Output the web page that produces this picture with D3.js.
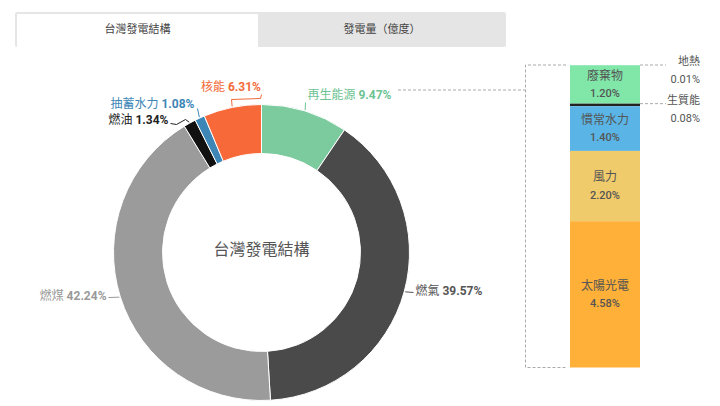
<!DOCTYPE html>
<html lang="zh-Hant">
<head>
<meta charset="utf-8">
<title>台灣發電結構</title>
<script src="https://d3js.org/d3.v7.min.js"></script>
<style>
  body { margin: 0; background: #fff; }
  text { font-family: Roboto, "Noto Sans CJK TC", sans-serif; }
</style>
</head>
<body>
<div id="chart"></div>
<script>
// donut data
var sources = ["再生能源", "燃氣", "燃煤", "燃油", "抽蓄水力", "核能"];
var shares = [9.47, 39.57, 42.24, 1.34, 1.08, 6.31];
var sliceColors = ["#7bcb9f", "#4a4a4a", "#9b9b9b", "#111111", "#3d86b6", "#f8693a"];
var labelColors = ["#6cc393", "#555555", "#999999", "#222222", "#3d86b6", "#f26a3a"];

// renewables breakdown (top to bottom)
var renewables = ["地熱", "廢棄物", "生質能", "慣常水力", "風力", "太陽光電"];
var renewShares = [0.01, 1.20, 0.08, 1.40, 2.20, 4.58];
var renewColors = ["#7fd9a5", "#80e7a9", "#222222", "#5ab5e6", "#f0cb6b", "#ffb038"];

var tabs = ["台灣發電結構", "發電量（億度）"];

var w = 720, h = 406;
var cx = 261.5, cy = 252.5, rOut = 148, rIn = 99;

var svg = d3.select("#chart").append("svg")
  .attr("width", w)
  .attr("height", h);

// tabs
svg.append("rect").attr("x", 15).attr("y", 12).attr("width", 491).attr("height", 35)
  .attr("rx", 2).attr("fill", "#e5e5e5");
svg.append("rect").attr("x", 17).attr("y", 14).attr("width", 241).attr("height", 33)
  .attr("fill", "#fff");
svg.selectAll("text.tab")
  .data(tabs)
  .enter()
  .append("text")
  .attr("class", "tab")
  .attr("x", function(d, i) { return i == 0 ? 137.5 : 382; })
  .attr("y", 30)
  .attr("text-anchor", "middle")
  .attr("dominant-baseline", "middle")
  .attr("font-size", "11px")
  .attr("fill", "#444")
  .text(function(d) { return d; });

// donut
var pie = d3.pie().sort(null).value(function(d) { return d; });
var arcs = pie(shares);
var arc = d3.arc().innerRadius(rIn).outerRadius(rOut);

var g = svg.append("g").attr("transform", "translate(" + cx + "," + cy + ")");

g.selectAll("path")
  .data(arcs)
  .enter()
  .append("path")
  .attr("d", arc)
  .attr("fill", function(d, i) { return sliceColors[i]; })
  .attr("stroke", "#fff")
  .attr("stroke-width", 1);

g.append("text")
  .attr("x", 0)
  .attr("y", -2)
  .attr("text-anchor", "middle")
  .attr("dominant-baseline", "middle")
  .attr("font-size", "16px")
  .attr("fill", "#555")
  .text("台灣發電結構");

// label placement, relative to the centre: text anchor point + leader bends (label side first)
var labelPos = [
  { x: 46, y: -157, anchor: "start", bend: [[44, -150]] },
  { x: 154, y: 39, anchor: "start", bend: [[152, 40]] },
  { x: -155, y: 44, anchor: "end", bend: [[-153, 45]] },
  { x: -93, y: -132, anchor: "end", bend: [[-91, -129], [-85, -128], [-76, -133]] },
  { x: -67, y: -148, anchor: "end", bend: [[-64, -144]] },
  { x: -0.5, y: -165, anchor: "end", bend: [[0, -158], [-1, -154], [-30, -153]] }
];

function edgePoint(d) {
  var a = (d.startAngle + d.endAngle) / 2;
  return [Math.sin(a) * (rOut + 1), -Math.cos(a) * (rOut + 1)];
}

var line = d3.line();
g.selectAll("path.leader")
  .data(arcs)
  .enter()
  .append("path")
  .attr("class", "leader")
  .attr("fill", "none")
  .attr("stroke", function(d, i) { return labelColors[i]; })
  .attr("stroke-width", 1)
  .attr("d", function(d, i) {
    var pts = [edgePoint(d)].concat(labelPos[i].bend.slice().reverse());
    return line(pts);
  });

var labels = g.selectAll("text.lbl")
  .data(arcs)
  .enter()
  .append("text")
  .attr("class", "lbl")
  .attr("x", function(d, i) { return labelPos[i].x; })
  .attr("y", function(d, i) { return labelPos[i].y; })
  .attr("text-anchor", function(d, i) { return labelPos[i].anchor; })
  .attr("dominant-baseline", "middle")
  .attr("font-size", "12px")
  .attr("fill", function(d, i) { return labelColors[i]; });
labels.append("tspan").text(function(d, i) { return sources[i] + " "; });
labels.append("tspan").attr("font-weight", "bold")
  .text(function(d) { return d.data.toFixed(2) + "%"; });

// renewables stacked bar
var total = d3.sum(renewShares);
var y = d3.scaleLinear().domain([0, total]).range([65, 367.5]);
var barX = 570, barW = 70;
var stack = [];
var acc = 0;
renewShares.forEach(function(v, i) {
  stack.push({ name: renewables[i], v: v, y0: acc, y1: acc + v, i: i });
  acc += v;
});

svg.selectAll("rect.seg")
  .data(stack)
  .enter()
  .append("rect")
  .attr("class", "seg")
  .attr("x", barX)
  .attr("width", barW)
  .attr("y", function(d) { return y(d.y0); })
  .attr("height", function(d) { return Math.max(y(d.y1) - y(d.y0), 0.3); })
  .attr("fill", function(d) { return renewColors[d.i]; });

var big = stack.filter(function(d) { return d.v > 0.5; });
svg.selectAll("text.segName")
  .data(big)
  .enter()
  .append("text")
  .attr("x", barX + barW / 2)
  .attr("y", function(d) { return (y(d.y0) + y(d.y1)) / 2 - 8; })
  .attr("text-anchor", "middle")
  .attr("dominant-baseline", "middle")
  .attr("font-size", "12px")
  .attr("fill", "#555")
  .text(function(d) { return d.name; });
svg.selectAll("text.segVal")
  .data(big)
  .enter()
  .append("text")
  .attr("x", barX + barW / 2)
  .attr("y", function(d) { return (y(d.y0) + y(d.y1)) / 2 + 10; })
  .attr("text-anchor", "middle")
  .attr("dominant-baseline", "middle")
  .attr("font-size", "11px")
  .attr("font-weight", "500")
  .attr("fill", "#555")
  .text(function(d) { return d.v.toFixed(2) + "%"; });

// small ones on the right
var small = stack.filter(function(d) { return d.v <= 0.5; });
svg.selectAll("line.smallLead")
  .data(small)
  .enter()
  .append("line")
  .attr("x1", barX + barW)
  .attr("x2", barX + barW + 26)
  .attr("y1", function(d) { return y(d.y0); })
  .attr("y2", function(d) { return y(d.y0); })
  .attr("stroke", "#aaa")
  .attr("stroke-dasharray", "3,2");
svg.selectAll("text.smallName")
  .data(small)
  .enter()
  .append("text")
  .attr("x", 700)
  .attr("y", function(d) { return y(d.y0) - 3; })
  .attr("text-anchor", "end")
  .attr("dominant-baseline", "middle")
  .attr("font-size", "11px")
  .attr("fill", "#555")
  .text(function(d) { return d.name; });
svg.selectAll("text.smallVal")
  .data(small)
  .enter()
  .append("text")
  .attr("x", 700)
  .attr("y", function(d) { return y(d.y0) + 15; })
  .attr("text-anchor", "end")
  .attr("dominant-baseline", "middle")
  .attr("font-size", "11px")
  .attr("fill", "#555")
  .text(function(d) { return d.v.toFixed(2) + "%"; });

// bracket from the renewables label to the bar
var bx = 525.5;
svg.append("path")
  .attr("fill", "none")
  .attr("stroke", "#aaa")
  .attr("stroke-dasharray", "3,2")
  .attr("d", line([[398, 90], [bx, 90]]) + line([[barX - 4, y(0)], [bx, y(0)], [bx, y(total)], [barX - 3, y(total)]]));
</script>
</body>
</html>
